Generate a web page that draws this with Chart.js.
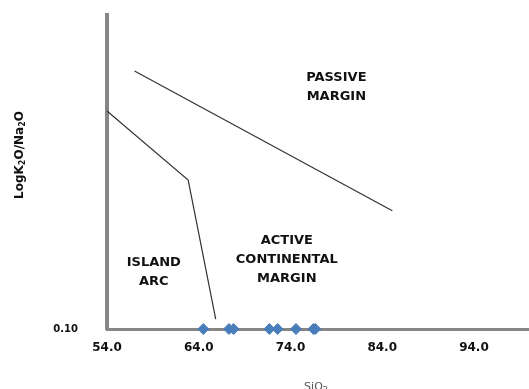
<!DOCTYPE html>
<html>
<head>
<meta charset="utf-8">
<script src="https://cdn.jsdelivr.net/npm/chart.js@4.4.1/dist/chart.umd.min.js"></script>
<style>
  body { margin: 0; background: #fff; }
  #wrap { width: 529px; height: 389px; }
</style>
</head>
<body>
<div id="wrap"><canvas id="chart" width="529" height="389"></canvas></div>
<script>
// samples (SiO2 vs K2O/Na2O)
const sampleSiO2 = [64.5, 67.3, 67.8, 71.7, 72.6, 74.6, 76.5, 76.7]
const sampleRatio = [0.1, 0.1, 0.1, 0.1, 0.1, 0.1, 0.1, 0.1]

// field boundaries
const passiveSiO2 = [57.0, 85.1]
const passiveRatio = [29.2, 1.35]
const arcSiO2 = [54.0, 62.85, 65.85]
const arcRatio = [12.1, 2.65, 0.124]

const xTicks = [54, 64, 74, 84, 94]
const yTicks = [0.1]

// field names
const fieldNames = [['PASSIVE', 'MARGIN'], ['ACTIVE', 'CONTINENTAL', 'MARGIN'], ['ISLAND', 'ARC']]
const fieldSiO2 = [79.0, 73.6, 59.1]
const fieldRatio = [20.6, 0.456, 0.349]

const toPoints = (xs, ys) => xs.map((x, i) => ({ x: x, y: ys[i] }))

const textPlugin = {
  id: 'texts',
  afterDatasetsDraw(chart) {
    const ctx = chart.ctx
    const sx = chart.scales.x
    const sy = chart.scales.y
    ctx.save()
    ctx.fillStyle = '#111'
    ctx.font = 'bold 13px "DejaVu Sans"'
    ctx.textAlign = 'center'
    ctx.textBaseline = 'middle'
    fieldNames.forEach((lines, i) => {
      const cx = sx.getPixelForValue(fieldSiO2[i])
      const cy = sy.getPixelForValue(fieldRatio[i])
      const lh = 19
      lines.forEach((t, j) => {
        ctx.fillText(t, cx, cy + (j - (lines.length - 1) / 2) * lh)
      })
    })

    // y title with subscripts
    const parts = [['LogK', 0], ['2', 1], ['O/Na', 0], ['2', 1], ['O', 0]]
    const big = 'bold 12px "DejaVu Sans"'
    const small = 'bold 8px "DejaVu Sans"'
    let total = 0
    parts.forEach(p => { ctx.font = p[1] ? small : big; total += ctx.measureText(p[0]).width })
    ctx.translate(23, 155)
    ctx.rotate(-Math.PI / 2)
    ctx.textAlign = 'left'
    ctx.textBaseline = 'alphabetic'
    let px = -total / 2
    parts.forEach(p => {
      ctx.font = p[1] ? small : big
      ctx.fillText(p[0], px, p[1] ? 2 : 0)
      px += ctx.measureText(p[0]).width
    })
    ctx.restore()

    // x title, cut at the bottom edge
    ctx.save()
    ctx.fillStyle = '#555'
    ctx.textBaseline = 'top'
    ctx.font = '11px "DejaVu Sans"'
    const w1 = ctx.measureText('SiO').width
    ctx.font = '8px "DejaVu Sans"'
    const w2 = ctx.measureText('2').width
    const start = 316 - (w1 + w2) / 2
    ctx.font = '11px "DejaVu Sans"'
    ctx.fillText('SiO', start, 382)
    ctx.font = '8px "DejaVu Sans"'
    ctx.fillText('2', start + w1, 387)
    ctx.restore()
  }
}

new Chart(document.getElementById('chart').getContext('2d'), {
  type: 'scatter',
  data: {
    datasets: [
      {
        data: toPoints(passiveSiO2, passiveRatio),
        showLine: true,
        borderColor: '#333',
        borderWidth: 1.2,
        pointRadius: 0,
        clip: false
      },
      {
        data: toPoints(arcSiO2, arcRatio),
        showLine: true,
        borderColor: '#333',
        borderWidth: 1.2,
        pointRadius: 0,
        clip: false
      },
      {
        data: toPoints(sampleSiO2, sampleRatio),
        pointStyle: 'rectRot',
        pointRadius: 5.5,
        pointBackgroundColor: '#4a7ebb',
        pointBorderColor: '#4a7ebb',
        pointBorderWidth: 1,
        clip: false
      }
    ]
  },
  options: {
    responsive: false,
    animation: false,
    devicePixelRatio: 1,
    layout: { autoPadding: false, padding: { top: 15, right: 0, left: 0, bottom: 0 } },
    plugins: {
      legend: { display: false },
      tooltip: { enabled: false }
    },
    scales: {
      x: {
        type: 'linear',
        min: 54,
        max: 100,
        afterBuildTicks: s => { s.ticks = xTicks.map(v => ({ value: v })) },
        afterFit: s => { s.height = 60; s.paddingLeft = 0; s.paddingRight = 0 },
        grid: { display: true, drawOnChartArea: false, drawTicks: false },
        border: { display: true, color: '#868686', width: 3 },
        ticks: {
          padding: 12,
          color: '#111',
          font: { family: 'DejaVu Sans', weight: 'bold', size: 12 },
          callback: v => Number(v).toFixed(1),
          autoSkip: false,
          maxRotation: 0
        }
      },
      y: {
        type: 'logarithmic',
        min: 0.1,
        max: 100,
        afterBuildTicks: s => { s.ticks = yTicks.map(v => ({ value: v })) },
        // tick padding would otherwise push the plot top down
        afterFit: s => { s.width = 107; s.paddingTop = 0; s.paddingBottom = 0 },
        grid: { display: true, drawOnChartArea: false, drawTicks: false },
        border: { display: true, color: '#868686', width: 4 },
        ticks: {
          padding: 29,
          color: '#111',
          font: { family: 'DejaVu Sans', weight: 'bold', size: 10 },
          callback: v => Number(v).toFixed(2),
          autoSkip: false
        }
      }
    }
  },
  plugins: [textPlugin]
})
</script>
</body>
</html>
